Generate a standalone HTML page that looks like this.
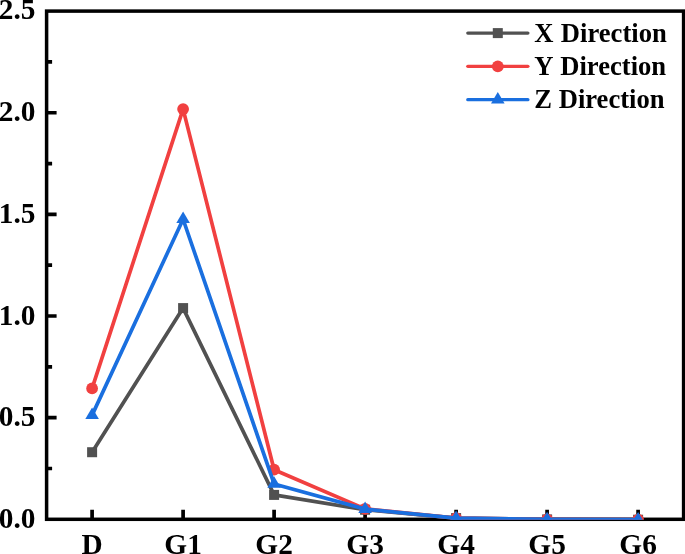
<!DOCTYPE html>
<html><head><meta charset="utf-8"><title>Chart</title>
<style>
html,body{margin:0;padding:0;background:#fff;}
body{width:685px;height:554px;overflow:hidden;}
svg{display:block;}
text{font-family:"Liberation Serif","Times New Roman",serif;font-weight:bold;fill:#000;}
.tl{font-size:29.33px;}
.lg{font-size:26.6px;}
</style></head><body>
<svg width="685" height="554" viewBox="0 0 685 554">
<defs><clipPath id="plot"><rect x="46.6" y="11.1" width="637.0" height="508.6499999999999"/></clipPath></defs>
<rect width="685" height="554" fill="#fff"/>
<rect x="46.6" y="11.1" width="637.0" height="508.19999999999993" fill="none" stroke="#000" stroke-width="3.5"/>
<path d="M46.6 468.48h5.5 M46.6 417.66h10.0 M46.6 366.84h5.5 M46.6 316.02h10.0 M46.6 265.20h5.5 M46.6 214.38h10.0 M46.6 163.56h5.5 M46.6 112.74h10.0 M46.6 61.92h5.5 M92.10 519.3v-9.6 M183.10 519.3v-9.6 M274.10 519.3v-9.6 M365.10 519.3v-9.6 M456.10 519.3v-9.6 M547.10 519.3v-9.6 M638.10 519.3v-9.6" stroke="#000" stroke-width="3.7" fill="none"/>
<g clip-path="url(#plot)">
<polyline points="92.10,452.22 183.10,308.09 274.10,494.91 365.10,509.75 456.10,518.08 547.10,519.40 638.10,519.71" fill="none" stroke="#515151" stroke-width="3.7" stroke-linejoin="round"/>
<rect x="87.10" y="447.22" width="10" height="10" fill="#515151"/>
<rect x="178.10" y="303.09" width="10" height="10" fill="#515151"/>
<rect x="269.10" y="489.91" width="10" height="10" fill="#515151"/>
<rect x="360.10" y="504.75" width="10" height="10" fill="#515151"/>
<rect x="451.10" y="513.08" width="10" height="10" fill="#515151"/>
<rect x="542.10" y="514.40" width="10" height="10" fill="#515151"/>
<rect x="633.10" y="514.71" width="10" height="10" fill="#515151"/>
<polyline points="92.10,388.39 183.10,109.08 274.10,469.70 365.10,508.83 456.10,518.18 547.10,519.40 638.10,519.71" fill="none" stroke="#F14040" stroke-width="3.7" stroke-linejoin="round"/>
<circle cx="92.10" cy="388.39" r="5.9" fill="#F14040"/>
<circle cx="183.10" cy="109.08" r="5.9" fill="#F14040"/>
<circle cx="274.10" cy="469.70" r="5.9" fill="#F14040"/>
<circle cx="365.10" cy="508.83" r="5.9" fill="#F14040"/>
<circle cx="456.10" cy="518.18" r="5.9" fill="#F14040"/>
<circle cx="547.10" cy="519.40" r="5.9" fill="#F14040"/>
<circle cx="638.10" cy="519.71" r="5.9" fill="#F14040"/>
<polyline points="92.10,415.12 183.10,219.26 274.10,483.93 365.10,509.14 456.10,518.18 547.10,519.40 638.10,519.71" fill="none" stroke="#1A6FDF" stroke-width="3.7" stroke-linejoin="round"/>
<polygon points="92.10,407.45 85.30,418.95 98.90,418.95" fill="#1A6FDF"/>
<polygon points="183.10,211.59 176.30,223.09 189.90,223.09" fill="#1A6FDF"/>
<polygon points="274.10,476.26 267.30,487.76 280.90,487.76" fill="#1A6FDF"/>
<polygon points="365.10,501.47 358.30,512.97 371.90,512.97" fill="#1A6FDF"/>
<polygon points="456.10,510.52 449.30,522.02 462.90,522.02" fill="#1A6FDF"/>
<polygon points="547.10,511.73 540.30,523.23 553.90,523.23" fill="#1A6FDF"/>
<polygon points="638.10,512.04 631.30,523.54 644.90,523.54" fill="#1A6FDF"/>
</g>
<line x1="467.8" y1="33.1" x2="527.9" y2="33.1" stroke="#515151" stroke-width="3.3" stroke-linecap="round"/>
<rect x="492.80" y="28.10" width="10" height="10" fill="#515151"/>
<text x="534.3" y="41.6" class="lg">X<tspan dx="0.7"> Direction</tspan></text>
<line x1="467.8" y1="66.3" x2="527.9" y2="66.3" stroke="#F14040" stroke-width="3.3" stroke-linecap="round"/>
<circle cx="497.80" cy="66.30" r="5.9" fill="#F14040"/>
<text x="534.3" y="74.8" class="lg">Y<tspan dx="1.1"> Direction</tspan></text>
<line x1="467.8" y1="99.7" x2="527.9" y2="99.7" stroke="#1A6FDF" stroke-width="3.3" stroke-linecap="round"/>
<polygon points="497.80,92.03 491.00,103.53 504.60,103.53" fill="#1A6FDF"/>
<text x="534.3" y="108.2" class="lg">Z<tspan dx="0.0"> Direction</tspan></text>
<text x="35.5" y="527.8" text-anchor="end" class="tl">0.0</text>
<text x="35.5" y="426.2" text-anchor="end" class="tl">0.5</text>
<text x="35.5" y="324.5" text-anchor="end" class="tl">1.0</text>
<text x="35.5" y="222.9" text-anchor="end" class="tl">1.5</text>
<text x="35.5" y="121.2" text-anchor="end" class="tl">2.0</text>
<text x="35.5" y="18.8" text-anchor="end" class="tl">2.5</text>
<text x="92.1" y="554.0" text-anchor="middle" class="tl">D</text>
<text x="183.1" y="554.0" text-anchor="middle" class="tl">G1</text>
<text x="274.1" y="554.0" text-anchor="middle" class="tl">G2</text>
<text x="365.1" y="554.0" text-anchor="middle" class="tl">G3</text>
<text x="456.1" y="554.0" text-anchor="middle" class="tl">G4</text>
<text x="547.1" y="554.0" text-anchor="middle" class="tl">G5</text>
<text x="638.1" y="554.0" text-anchor="middle" class="tl">G6</text>
</svg>
</body></html>
